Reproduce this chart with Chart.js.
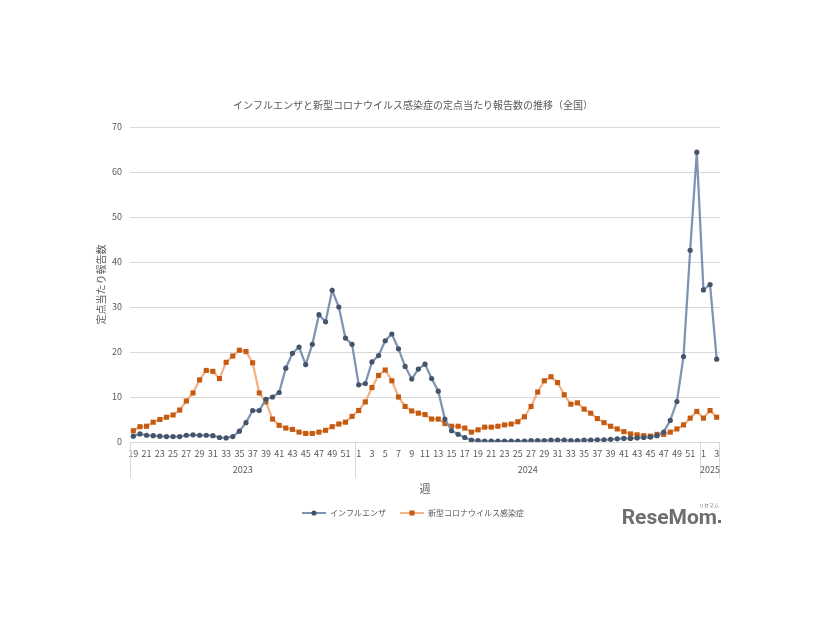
<!DOCTYPE html>
<html lang="ja">
<head>
<meta charset="utf-8">
<title>インフルエンザと新型コロナウイルス感染症の定点当たり報告数の推移</title>
<script src="https://cdn.jsdelivr.net/npm/chart.js@4/dist/chart.umd.min.js"></script>
<style>
    html, body { margin: 0; padding: 0; background: #fff; }
    canvas { display: block; }
</style>
</head>
<body>
<canvas id="chart" width="826" height="620"></canvas>
<script>
/* ================= DATA ================= */
const years = ["2023", "2024", "2025"];

const weeks2023 = [19, 20, 21, 22, 23, 24, 25, 26, 27, 28, 29, 30, 31, 32, 33, 34, 35, 36,
    37, 38, 39, 40, 41, 42, 43, 44, 45, 46, 47, 48, 49, 50, 51, 52];
const weeks2024 = [1, 2, 3, 4, 5, 6, 7, 8, 9, 10, 11, 12, 13, 14, 15, 16, 17, 18, 19, 20,
    21, 22, 23, 24, 25, 26, 27, 28, 29, 30, 31, 32, 33, 34, 35, 36, 37, 38, 39, 40,
    41, 42, 43, 44, 45, 46, 47, 48, 49, 50, 51, 52];
const weeks2025 = [1, 2, 3];

const influenza = [
    // 2023
    1.3, 1.8, 1.5, 1.4, 1.3, 1.2, 1.2, 1.2, 1.5, 1.6, 1.5, 1.5, 1.4, 1.0, 0.9, 1.2, 2.4,
    4.3, 7.0, 7.0, 9.5, 10.0, 11.0, 16.4, 19.7, 21.1, 17.2, 21.7, 28.3, 26.7, 33.7, 30.0,
    23.1, 21.7,
    // 2024
    12.7, 13.0, 17.8, 19.2, 22.5, 24.0, 20.7, 16.8, 14.0, 16.2, 17.3, 14.1, 11.3, 5.1,
    2.5, 1.7, 1.0, 0.4, 0.3, 0.2, 0.2, 0.2, 0.2, 0.2, 0.2, 0.2, 0.3, 0.3, 0.3, 0.4, 0.4,
    0.4, 0.3, 0.3, 0.4, 0.4, 0.5, 0.5, 0.6, 0.7, 0.8, 0.8, 0.9, 1.0, 1.1, 1.4, 2.2, 4.8,
    9.0, 19.0, 42.6, 64.4,
    // 2025
    33.8, 35.0, 18.4
];

const covid = [
    // 2023
    2.5, 3.4, 3.5, 4.4, 5.0, 5.5, 6.0, 7.1, 9.1, 10.9, 13.8, 15.9, 15.7, 14.1, 17.7, 19.1,
    20.4, 20.1, 17.6, 10.9, 8.9, 5.1, 3.7, 3.1, 2.8, 2.2, 1.9, 1.9, 2.2, 2.6, 3.4, 4.0,
    4.4, 5.7,
    // 2024
    7.0, 8.9, 12.1, 14.8, 16.0, 13.6, 10.0, 7.9, 6.9, 6.4, 6.1, 5.1, 5.1, 4.1, 3.5, 3.5,
    3.1, 2.2, 2.7, 3.3, 3.3, 3.5, 3.8, 4.0, 4.5, 5.6, 7.9, 11.1, 13.6, 14.5, 13.2, 10.5,
    8.4, 8.7, 7.3, 6.4, 5.2, 4.3, 3.5, 2.9, 2.3, 1.8, 1.6, 1.4, 1.3, 1.7, 1.7, 2.2, 2.9,
    3.8, 5.3, 6.8,
    // 2025
    5.3, 7.0, 5.5
];

const yearWeeks = [weeks2023, weeks2024, weeks2025];
const labels = [].concat(weeks2023, weeks2024, weeks2025);

/* ================= STYLE ================= */
const TEXT = "#595959";
const GRID = "#d9d9d9";
const FONT = '"Noto Sans CJK JP", "Noto Sans", sans-serif';

Chart.defaults.font.family = FONT;
Chart.defaults.color = TEXT;

function legendMark(lineColor, markColor, shape) {
    const c = document.createElement("canvas");
    c.width = 24;
    c.height = 8;
    const g = c.getContext("2d");
    g.strokeStyle = lineColor;
    g.lineWidth = 2;
    g.beginPath();
    g.moveTo(0, 4);
    g.lineTo(24, 4);
    g.stroke();
    g.fillStyle = markColor;
    if (shape === "circle") {
        g.beginPath();
        g.arc(12, 4, 2.6, 0, Math.PI * 2);
        g.fill();
    } else {
        g.fillRect(9.5, 1.5, 5, 5);
    }
    return c;
}

/* ================= PLUGINS ================= */
// second category row: year names under the week numbers
const yearRow = {
    id: "yearRow",
    afterDraw(chart) {
        const x = chart.scales.x;
        const ctx = chart.ctx;
        const top = chart.chartArea.bottom;
        const step = x.getPixelForValue(1) - x.getPixelForValue(0);
        ctx.save();
        ctx.strokeStyle = GRID;
        ctx.lineWidth = 1;
        ctx.fillStyle = TEXT;
        ctx.font = "9px " + FONT;
        ctx.textAlign = "center";
        ctx.textBaseline = "middle";
        let start = 0;
        yearWeeks.forEach((wk, i) => {
            const end = start + wk.length - 1;
            const left = x.getPixelForValue(start) - step / 2;
            const right = x.getPixelForValue(end) + step / 2;
            ctx.beginPath();
            ctx.moveTo(Math.round(left) + 0.5, top);
            ctx.lineTo(Math.round(left) + 0.5, top + 36);
            if (i === yearWeeks.length - 1) {
                ctx.moveTo(Math.round(right) - 0.5, top);
                ctx.lineTo(Math.round(right) - 0.5, top + 36);
            }
            ctx.stroke();
            ctx.fillText(years[i], (left + right) / 2, top + 28);
            start = end + 1;
        });
        ctx.restore();
    }
};

// site logo in the lower right corner
const logo = {
    id: "logo",
    afterDraw(chart) {
        const ctx = chart.ctx;
        ctx.save();
        ctx.fillStyle = "#6e6e6e";
        ctx.font = "bold 21px Roboto, sans-serif";
        ctx.textAlign = "right";
        ctx.textBaseline = "alphabetic";
        ctx.fillText("ReseMom", 717, 524);
        ctx.fillRect(718, 520, 3, 3);
        ctx.font = "5px " + FONT;
        ctx.fillText("リセマム", 719, 507);
        ctx.restore();
    }
};

/* ================= CHART ================= */
new Chart(document.getElementById("chart"), {
    type: "line",
    data: {
        labels: labels,
        datasets: [
            {
                label: "インフルエンザ",
                data: influenza,
                borderColor: "#7f93b3",
                borderWidth: 2.25,
                pointStyle: "circle",
                pointRadius: 2.6,
                pointBorderWidth: 0,
                pointBackgroundColor: "#44546a",
                pointBorderColor: "#44546a",
                tension: 0
            },
            {
                label: "新型コロナウイルス感染症",
                data: covid,
                borderColor: "#f4b183",
                borderWidth: 2.25,
                pointStyle: "rect",
                pointRadius: 3.6,
                pointBorderWidth: 0,
                pointBackgroundColor: "#c55a11",
                pointBorderColor: "#c55a11",
                tension: 0
            }
        ]
    },
    options: {
        responsive: false,
        animation: false,
        devicePixelRatio: 1,
        layout: { padding: { left: 90, right: 90, top: 99, bottom: 93 } },
        plugins: {
            title: {
                display: true,
                text: "インフルエンザと新型コロナウイルス感染症の定点当たり報告数の推移（全国）",
                color: TEXT,
                font: { size: 10, weight: "normal" },
                padding: { top: 0, bottom: 16 }
            },
            legend: {
                position: "bottom",
                labels: {
                    usePointStyle: true,
                    pointStyleWidth: 24,
                    boxHeight: 8,
                    padding: 14,
                    color: TEXT,
                    font: { size: 8 },
                    generateLabels(chart) {
                        const items = Chart.defaults.plugins.legend.labels.generateLabels(chart);
                        items.forEach(it => {
                            it.pointStyle = it.datasetIndex === 0
                                ? legendMark("#7f93b3", "#44546a", "circle")
                                : legendMark("#f4b183", "#c55a11", "rect");
                        });
                        return items;
                    }
                }
            },
            tooltip: { enabled: false }
        },
        scales: {
            x: {
                offset: true,
                grid: { display: false, drawTicks: false },
                border: { display: false },
                ticks: {
                    autoSkip: false,
                    maxRotation: 0,
                    padding: 6,
                    font: { size: 9 },
                    callback(v, i) {
                        return labels[i] % 2 === 1 ? String(labels[i]) : "";
                    }
                },
                title: {
                    display: true,
                    text: "週",
                    font: { size: 11 },
                    padding: 0
                },
                afterFit(s) { s.height = 53; }
            },
            y: {
                min: 0,
                max: 70,
                grid: { color: GRID, drawTicks: false },
                border: { display: false },
                ticks: { stepSize: 10, padding: 8, font: { size: 9 } },
                title: {
                    display: true,
                    text: "定点当たり報告数",
                    font: { size: 10 },
                    padding: { top: 5, bottom: 0 }
                },
                afterFit(s) { s.width = 40; }
            },
            y2: {
                position: "right",
                grid: { display: false },
                border: { display: false },
                ticks: { display: false },
                afterFit(s) { s.width = 16; }
            }
        }
    },
    plugins: [yearRow, logo]
});
</script>
</body>
</html>
